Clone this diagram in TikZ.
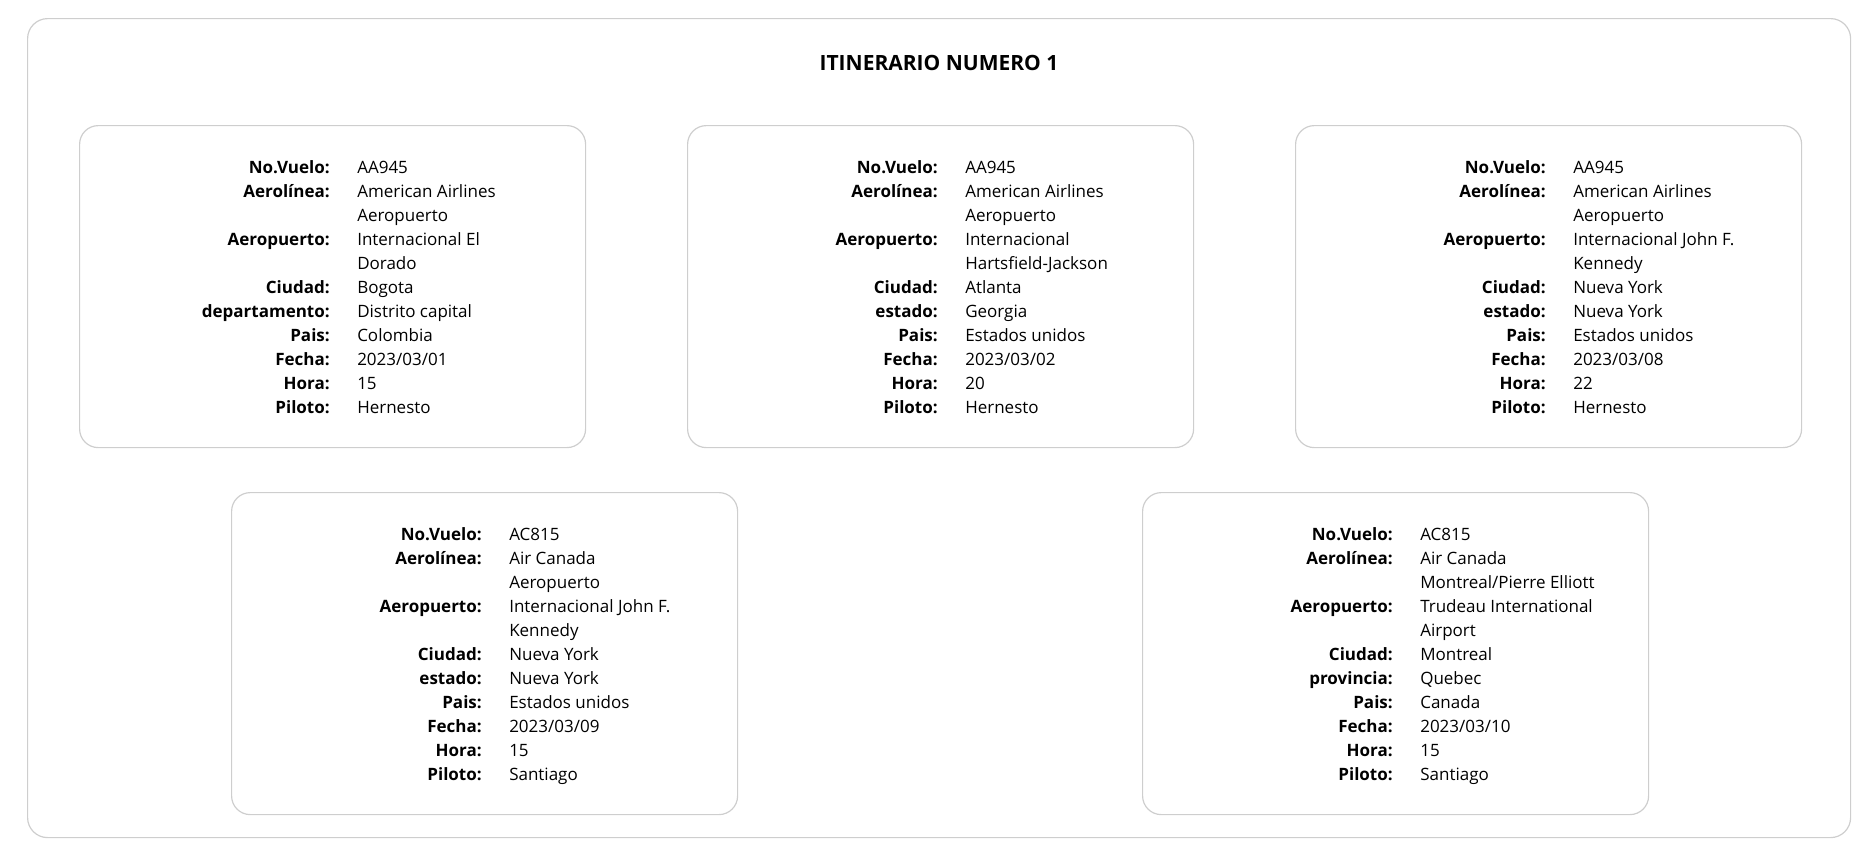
\documentclass[tikz,border=0pt]{standalone}
\usepackage{fontspec}
\setmainfont{Open Sans}
\definecolor{bordergray}{RGB}{206,206,206}
\tikzset{
  x=0.75pt, y=-0.75pt,
  outerbox/.style={draw=bordergray, line width=0.9pt, rounded corners=15pt},
  cardbox/.style={draw=bordergray, line width=0.9pt, rounded corners=14pt, anchor=north west,
    minimum width=379.5pt, minimum height=241.5pt, inner sep=0pt},
  lbl/.style={anchor=base east, inner sep=0pt, font=\fontsize{12.75pt}{15pt}\selectfont\bfseries},
  val/.style={anchor=base west, inner sep=0pt, font=\fontsize{12.75pt}{15pt}\selectfont},
  ttl/.style={anchor=base, inner sep=0pt, font=\fontsize{15.75pt}{18pt}\selectfont\bfseries}
}
\newcommand\fld[4]{%
  \node[lbl] (#1l#2) at (251,{48+24*#2}) {#3};
  \node[val] (#1v#2) at (278,{48+24*#2}) {#4};}
\newcommand\valonly[3]{%
  \node[val] (#1v#2) at (278,{48+24*#2}) {#3};}
\begin{document}
\begin{tikzpicture}
\useasboundingbox (0,0) rectangle (1868,847);
\node[outerbox, anchor=north west, minimum width=1367.25pt, minimum height=614.25pt, inner sep=0pt] (outer) at (27,18) {};
\node[ttl] (title) at (939,70) {ITINERARIO NUMERO 1};

% Card 1
\begin{scope}[shift={(79,125)}]
\node[cardbox] (c1) at (0,0) {};
\fld{c1}{0}{No.Vuelo:}{AA945}
\fld{c1}{1}{Aerolínea:}{American Airlines}
\valonly{c1}{2}{Aeropuerto}
\fld{c1}{3}{Aeropuerto:}{Internacional El}
\valonly{c1}{4}{Dorado}
\fld{c1}{5}{Ciudad:}{Bogota}
\fld{c1}{6}{departamento:}{Distrito capital}
\fld{c1}{7}{Pais:}{Colombia}
\fld{c1}{8}{Fecha:}{2023/03/01}
\fld{c1}{9}{Hora:}{15}
\fld{c1}{10}{Piloto:}{Hernesto}
\end{scope}

% Card 2
\begin{scope}[shift={(687,125)}]
\node[cardbox] (c2) at (0,0) {};
\fld{c2}{0}{No.Vuelo:}{AA945}
\fld{c2}{1}{Aerolínea:}{American Airlines}
\valonly{c2}{2}{Aeropuerto}
\fld{c2}{3}{Aeropuerto:}{Internacional}
\valonly{c2}{4}{Hartsfield-Jackson}
\fld{c2}{5}{Ciudad:}{Atlanta}
\fld{c2}{6}{estado:}{Georgia}
\fld{c2}{7}{Pais:}{Estados unidos}
\fld{c2}{8}{Fecha:}{2023/03/02}
\fld{c2}{9}{Hora:}{20}
\fld{c2}{10}{Piloto:}{Hernesto}
\end{scope}

% Card 3
\begin{scope}[shift={(1295,125)}]
\node[cardbox] (c3) at (0,0) {};
\fld{c3}{0}{No.Vuelo:}{AA945}
\fld{c3}{1}{Aerolínea:}{American Airlines}
\valonly{c3}{2}{Aeropuerto}
\fld{c3}{3}{Aeropuerto:}{Internacional John F.}
\valonly{c3}{4}{Kennedy}
\fld{c3}{5}{Ciudad:}{Nueva York}
\fld{c3}{6}{estado:}{Nueva York}
\fld{c3}{7}{Pais:}{Estados unidos}
\fld{c3}{8}{Fecha:}{2023/03/08}
\fld{c3}{9}{Hora:}{22}
\fld{c3}{10}{Piloto:}{Hernesto}
\end{scope}

% Card 4
\begin{scope}[shift={(231,492)}]
\node[cardbox] (c4) at (0,0) {};
\fld{c4}{0}{No.Vuelo:}{AC815}
\fld{c4}{1}{Aerolínea:}{Air Canada}
\valonly{c4}{2}{Aeropuerto}
\fld{c4}{3}{Aeropuerto:}{Internacional John F.}
\valonly{c4}{4}{Kennedy}
\fld{c4}{5}{Ciudad:}{Nueva York}
\fld{c4}{6}{estado:}{Nueva York}
\fld{c4}{7}{Pais:}{Estados unidos}
\fld{c4}{8}{Fecha:}{2023/03/09}
\fld{c4}{9}{Hora:}{15}
\fld{c4}{10}{Piloto:}{Santiago}
\end{scope}

% Card 5
\begin{scope}[shift={(1142,492)}]
\node[cardbox] (c5) at (0,0) {};
\fld{c5}{0}{No.Vuelo:}{AC815}
\fld{c5}{1}{Aerolínea:}{Air Canada}
\valonly{c5}{2}{Montreal/Pierre Elliott}
\fld{c5}{3}{Aeropuerto:}{Trudeau International}
\valonly{c5}{4}{Airport}
\fld{c5}{5}{Ciudad:}{Montreal}
\fld{c5}{6}{provincia:}{Quebec}
\fld{c5}{7}{Pais:}{Canada}
\fld{c5}{8}{Fecha:}{2023/03/10}
\fld{c5}{9}{Hora:}{15}
\fld{c5}{10}{Piloto:}{Santiago}
\end{scope}
\end{tikzpicture}
\end{document}
